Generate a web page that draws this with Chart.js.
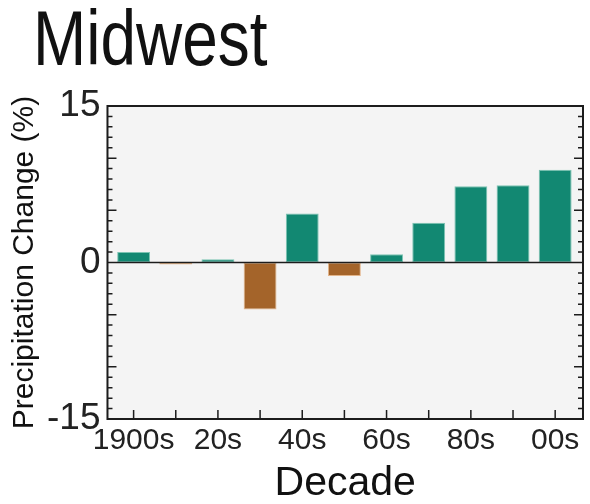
<!DOCTYPE html>
<html>
<head>
<meta charset="utf-8">
<script src="https://cdn.jsdelivr.net/npm/chart.js@4.4.1/dist/chart.umd.min.js"></script>
<style>
  body { margin: 0; background: #fff; }
  #wrap { position: relative; width: 590px; height: 504px; }
  #title {
    position: absolute; left: 33px; top: 0px;
    font: 77px/1 "Liberation Sans", Arial, sans-serif;
    color: #111;
    transform: scaleX(0.83);
    transform-origin: left top;
  }
  canvas { position: absolute; left: 0; top: 0; }
</style>
</head>
<body>
<div id="wrap">
  <canvas id="rainChart" width="590" height="504"></canvas>
  <div id="title">Midwest</div>
</div>
<script>
// 資料
const decades = ['1900s', '10s', '20s', '30s', '40s', '50s', '60s', '70s', '80s', '90s', '00s'];
const changePct = [1.0, -0.2, 0.3, -4.5, 4.7, -1.3, 0.8, 3.8, 7.3, 7.4, 8.9];
const yTickLabels = [-15, 0, 15];

const wetColor = '#128872';
const dryColor = '#a4642a';

// ======= 背景、框線、刻度 =======
const framePlugin = {
  id: 'frame',
  beforeDraw(chart) {
    const { ctx, chartArea: a } = chart;
    ctx.save();
    ctx.fillStyle = '#f4f4f4';
    ctx.fillRect(a.left, a.top, a.width, a.height);
    ctx.restore();
  },
  afterDraw(chart) {
    const { ctx, chartArea: a, scales: { x, y } } = chart;
    ctx.save();
    ctx.strokeStyle = '#1c1c1c';
    ctx.lineWidth = 1.5;
    ctx.beginPath();
    y.ticks.forEach(t => {
      const py = y.getPixelForValue(t.value);
      const len = t.value % 5 === 0 ? 9 : 5;
      ctx.moveTo(a.left, py); ctx.lineTo(a.left + len, py);
      ctx.moveTo(a.right, py); ctx.lineTo(a.right - len, py);
    });
    x.ticks.forEach(t => {
      const px = x.getPixelForValue(t.value);
      ctx.moveTo(px, a.bottom); ctx.lineTo(px, a.bottom - 9);
    });
    // 零線
    const zy = y.getPixelForValue(0);
    ctx.moveTo(a.left, zy); ctx.lineTo(a.right, zy);
    ctx.stroke();
    ctx.lineWidth = 2;
    ctx.strokeRect(a.left, a.top, a.width, a.height);
    ctx.restore();
  }
};

new Chart(document.getElementById('rainChart'), {
  type: 'bar',
  data: {
    datasets: [{
      data: changePct.map((v, i) => ({ x: i, y: v })),
      backgroundColor: changePct.map(v => v >= 0 ? wetColor : dryColor),
      borderColor: changePct.map(v => v >= 0 ? '#7cc4b3' : '#e2b48a'),
      borderWidth: 1,
      borderSkipped: false,
      barPercentage: 1,
      categoryPercentage: 0.78
    }]
  },
  options: {
    responsive: false,
    animation: false,
    layout: { padding: { left: 10, right: 7, top: 106, bottom: 0 } },
    plugins: { legend: { display: false }, tooltip: { enabled: false } },
    scales: {
      x: {
        type: 'linear',
        offset: false,
        min: -0.62,
        max: 10.66,
        afterBuildTicks: s => { s.ticks = decades.map((_, i) => ({ value: i })); },
        grid: { display: false, drawTicks: false },
        border: { display: false },
        ticks: {
          autoSkip: false,
          maxRotation: 0,
          padding: 4,
          color: '#222',
          font: { family: '"Liberation Sans", Arial', size: 30 },
          callback: v => (v % 2 === 0 ? decades[v] : '')
        },
        title: {
          display: true,
          text: 'Decade',
          color: '#111',
          padding: { top: 0, bottom: 0 },
          font: { family: '"Liberation Sans", Arial', size: 41, lineHeight: 1 }
        }
      },
      y: {
        min: -15,
        max: 15,
        afterBuildTicks: s => {
          const t = [];
          for (let v = -15; v <= 15; v++) t.push({ value: v });
          s.ticks = t;
        },
        grid: { display: false, drawTicks: false },
        border: { display: false },
        ticks: {
          autoSkip: false,
          padding: 7,
          color: '#222',
          font: { family: '"Liberation Sans", Arial', size: 37 },
          callback: v => (yTickLabels.includes(v) ? String(v) : '')
        },
        title: {
          display: true,
          text: 'Precipitation Change (%)',
          color: '#111',
          padding: { top: 0, bottom: 0 },
          font: { family: '"Liberation Sans", Arial', size: 30, lineHeight: 1 }
        }
      }
    }
  },
  plugins: [framePlugin]
});
</script>
</body>
</html>
